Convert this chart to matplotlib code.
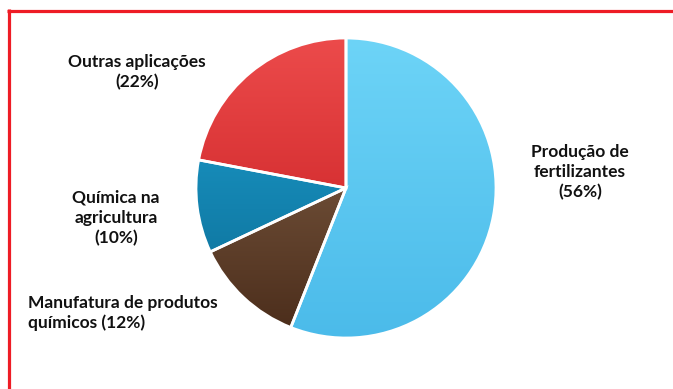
import numpy as np
import matplotlib
matplotlib.use('Agg')
import matplotlib.pyplot as plt
from matplotlib.lines import Line2D
from matplotlib.colors import LinearSegmentedColormap

# shares of use, clockwise from 12 o'clock
labels = ['Produção de\nfertilizantes\n(56%)',
          'Manufatura de produtos\nquímicos (12%)',
          'Química na\nagricultura\n(10%)',
          'Outras aplicações\n(22%)']
shares = [56, 12, 10, 22]

# top -> bottom gradient of each slice
grad_colors = [('#6dd4f7', '#4bbbea'),
               ('#8c6a4f', '#4a2c1a'),
               ('#1fa2d3', '#0a6a92'),
               ('#ec4b4b', '#c3181c')]

# label anchor points (pixels from top-left) and alignment
label_pos = [(580, 172, 'center'),
             (28, 313, 'left'),
             (116, 218, 'center'),
             (137, 72, 'center')]

W, H = 673, 389
fig = plt.figure(figsize=(W / 100, H / 100), dpi=100)
fig.patch.set_facecolor('white')

cx, cy, r = 346, 188, 150
ax = fig.add_axes([(cx - r) / W, 1 - (cy + r) / H, 2 * r / W, 2 * r / H])
ax.set_xlim(-1, 1)
ax.set_ylim(-1, 1)
ax.axis('off')

wedges, _ = ax.pie(shares, startangle=90, counterclock=False, radius=1,
                   wedgeprops=dict(edgecolor='white', linewidth=2))

for w, (c_top, c_bot) in zip(wedges, grad_colors):
    w.set_facecolor('none')
    cmap = LinearSegmentedColormap.from_list('g', [c_bot, c_top])
    grad = np.linspace(0, 1, 256).reshape(-1, 1)
    im = ax.imshow(grad, cmap=cmap, extent=[-1, 1, -1, 1], origin='lower',
                   aspect='auto', zorder=1)
    im.set_clip_path(w)
    w.set_zorder(2)

ax.set_xlim(-1, 1)
ax.set_ylim(-1, 1)

for txt, (px, py, ha) in zip(labels, label_pos):
    fig.text(px / W, 1 - py / H, txt, ha=ha, va='center', multialignment=ha,
             fontsize=12.5, fontweight='bold', family='Lato', color='#111111',
             linespacing=1.3)

# red frame, open on the right and bottom
red = '#ee1c25'
fig.add_artist(Line2D([7 / W, 1], [1 - 10.5 / H] * 2, color=red, lw=2.3,
                      transform=fig.transFigure, solid_capstyle='butt'))
fig.add_artist(Line2D([8.5 / W] * 2, [0, 1 - 9 / H], color=red, lw=2.3,
                      transform=fig.transFigure, solid_capstyle='butt'))

fig.savefig('out.png', dpi=100, facecolor='white')
